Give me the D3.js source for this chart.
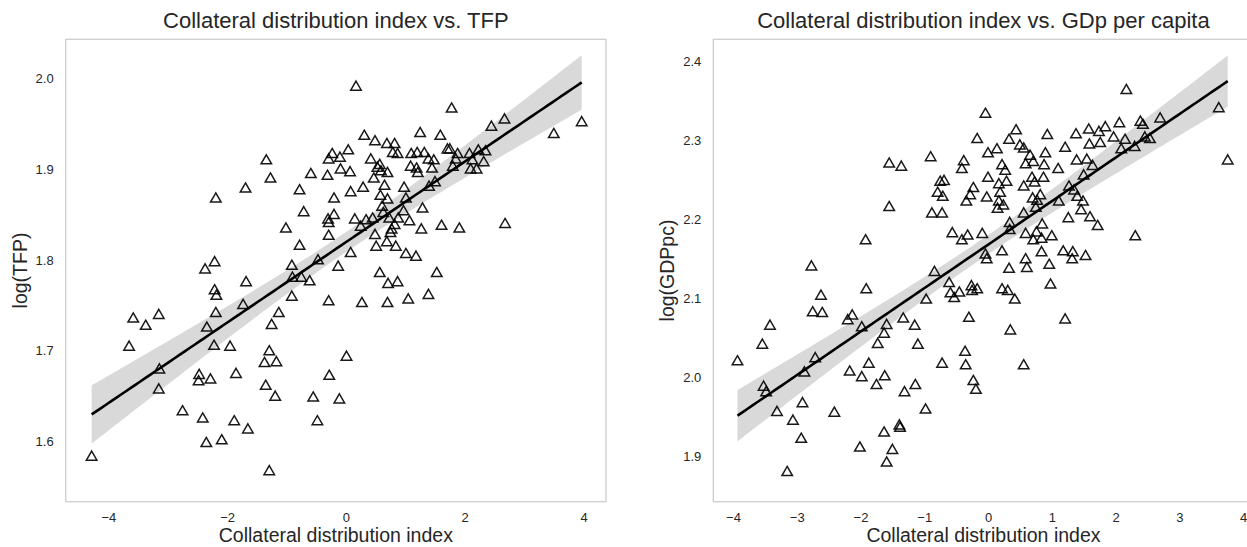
<!DOCTYPE html>
<html>
<head>
<meta charset="utf-8">
<script src="https://cdn.jsdelivr.net/npm/d3@7"></script>
<style>
    body { margin: 0; background: #fff; }
    text { font-family: "Liberation Sans", Arial, sans-serif; fill: #262626; }
</style>
</head>
<body>
<div id="chart"></div>
<script>
// left panel: collateral index vs log(TFP)
var tfpIndex = [
    -4.28, -3.65, -3.58, -3.37, -3.15, -3.14, -3.15, -2.75, -2.47, -2.48,
    -2.41, -2.35, -2.37, -2.34, -2.28, -2.22, -2.21, -2.21, -2.18, -2.19,
    -2.19, -2.09, -1.95, -1.88, -1.85, -1.73, -1.68, -1.69, -1.65, -1.37,
    -1.35, -1.34, -1.29, -1.29, -1.27, -1.25, -1.19, -1.17, -1.13, -1.01,
    -0.91, -0.91, -0.90, -0.78, -0.78, -0.75, -0.71, -0.61, -0.59, -0.55,
    -0.48, -0.47, -0.31, -0.29, -0.30, -0.29, -0.29, -0.29, -0.28, -0.23,
    -0.20, -0.20, -0.13, -0.11, -0.10, -0.09, 0.01, 0.04, 0.07, 0.08,
    0.08, 0.17, 0.15, 0.25, 0.27, 0.29, 0.31, 0.34, 0.42, 0.45,
    0.47, 0.49, 0.49, 0.51, 0.53, 0.57, 0.59, 0.58, 0.57, 0.61,
    0.63, 0.65, 0.69, 0.70, 0.70, 0.69, 0.71, 0.70, 0.73, 0.75,
    0.77, 0.79, 0.82, 0.82, 0.84, 0.87, 0.87, 0.88, 0.97, 0.98,
    1.01, 1.01, 1.05, 1.07, 1.09, 1.10, 1.18, 1.19, 1.20, 1.21,
    1.25, 1.27, 1.29, 1.32, 1.39, 1.39, 1.40, 1.45, 1.48, 1.50,
    1.53, 1.59, 1.61, 1.71, 1.75, 1.78, 1.80, 1.85, 1.88, 1.91,
    2.08, 2.10, 2.13, 2.20, 2.23, 2.32, 2.35, 2.45, 2.67, 2.68,
    3.50, 3.97
]
var tfpLog = [
    1.583, 1.704, 1.735, 1.727, 1.739, 1.679, 1.657, 1.633, 1.673, 1.666,
    1.625, 1.598, 1.789, 1.725, 1.668, 1.705, 1.797, 1.766, 1.760, 1.741,
    1.867, 1.601, 1.704, 1.622, 1.674, 1.750, 1.775, 1.878, 1.613, 1.686,
    1.661, 1.909, 1.699, 1.567, 1.889, 1.728, 1.649, 1.687, 1.741, 1.834,
    1.793, 1.759, 1.780, 1.876, 1.815, 1.780, 1.852, 1.776, 1.894, 1.648,
    1.622, 1.799, 1.892, 1.910, 1.844, 1.840, 1.826, 1.754, 1.672, 1.916,
    1.867, 1.849, 1.792, 1.646, 1.912, 1.899, 1.693, 1.920, 1.896, 1.874,
    1.807, 1.990, 1.844, 1.836, 1.752, 1.879, 1.936, 1.843, 1.910, 1.845,
    1.889, 1.930, 1.827, 1.814, 1.901, 1.904, 1.897, 1.870, 1.785, 1.858,
    1.851, 1.881, 1.927, 1.895, 1.866, 1.819, 1.773, 1.752, 1.845, 1.829,
    1.833, 1.917, 1.927, 1.838, 1.814, 1.916, 1.775, 1.845, 1.853, 1.879,
    1.867, 1.806, 1.756, 1.842, 1.902, 1.916, 1.803, 1.900, 1.917, 1.895,
    1.939, 1.833, 1.856, 1.917, 1.761, 1.910, 1.880, 1.900, 1.909, 1.885,
    1.785, 1.936, 1.837, 1.921, 1.921, 1.966, 1.902, 1.910, 1.916, 1.834,
    1.916, 1.899, 1.909, 1.899, 1.920, 1.907, 1.919, 1.946, 1.954, 1.839,
    1.938, 1.951
]

// right panel: collateral index vs log(GDP per capita)
var gdpIndex = [
    -3.93, -3.54, -3.42, -3.52, -3.48, -3.31, -3.15, -3.06, -2.91, -2.93,
    -2.88, -2.77, -2.75, -2.71, -2.62, -2.60, -2.41, -2.20, -2.13, -2.17,
    -2.01, -1.98, -1.98, -1.92, -1.91, -1.87, -1.75, -1.73, -1.63, -1.63,
    -1.62, -1.59, -1.59, -1.55, -1.55, -1.50, -1.39, -1.38, -1.36, -1.33,
    -1.31, -1.15, -1.14, -1.10, -0.98, -0.97, -0.90, -0.88, -0.84, -0.79,
    -0.75, -0.72, -0.72, -0.71, -0.69, -0.61, -0.59, -0.56, -0.53, -0.45,
    -0.41, -0.41, -0.38, -0.36, -0.35, -0.34, -0.32, -0.30, -0.28, -0.26,
    -0.25, -0.23, -0.23, -0.19, -0.17, -0.17, -0.09, -0.04, -0.04, -0.02,
    -0.02, 0.00, 0.00, 0.14, 0.15, 0.17, 0.17, 0.19, 0.22, 0.24,
    0.22, 0.22, 0.27, 0.29, 0.31, 0.33, 0.34, 0.34, 0.33, 0.35,
    0.42, 0.44, 0.50, 0.56, 0.56, 0.56, 0.56, 0.59, 0.59, 0.61,
    0.59, 0.66, 0.69, 0.70, 0.71, 0.71, 0.73, 0.75, 0.76, 0.77,
    0.82, 0.84, 0.84, 0.85, 0.87, 0.88, 0.90, 0.93, 0.96, 0.98,
    1.00, 1.10, 1.11, 1.21, 1.21, 1.18, 1.26, 1.27, 1.32, 1.33,
    1.35, 1.38, 1.39, 1.40, 1.46, 1.49, 1.50, 1.53, 1.55, 1.58,
    1.59, 1.60, 1.64, 1.72, 1.74, 1.76, 1.84, 1.97, 2.06, 2.09,
    2.15, 2.17, 2.30, 2.31, 2.39, 2.43, 2.46, 2.54, 2.70, 3.62, 3.76
]
var gdpLog = [
    2.020, 2.041, 2.065, 1.988, 1.981, 1.956, 1.880, 1.945, 1.967, 1.922,
    2.006, 2.140, 2.082, 2.024, 2.103, 2.081, 1.955, 2.072, 2.078, 2.007,
    1.911, 2.063, 2.000, 2.173, 2.111, 2.017, 1.990, 2.042, 2.055, 1.930,
    2.001, 2.066, 1.892, 2.270, 2.215, 1.908, 1.939, 1.936, 2.266, 2.074,
    1.981, 2.065, 1.990, 2.041, 1.959, 2.098, 2.278, 2.207, 2.133, 2.233,
    2.247, 2.207, 2.017, 2.228, 2.248, 2.119, 2.106, 2.182, 2.100, 2.107,
    2.173, 2.263, 2.273, 2.032, 2.015, 2.222, 2.179, 2.075, 2.230, 2.115,
    2.109, 2.239, 1.995, 1.984, 2.111, 2.301, 2.181, 2.333, 2.155, 2.149,
    2.227, 2.283, 2.252, 2.288, 2.213, 2.222, 2.244, 2.233, 2.268, 2.217,
    2.159, 2.111, 2.261, 2.247, 2.109, 2.300, 2.195, 2.186, 2.137, 2.059,
    2.098, 2.312, 2.293, 2.289, 2.241, 2.207, 2.015, 2.181, 2.149, 2.138,
    2.269, 2.280, 2.252, 2.226, 2.173, 2.272, 2.246, 2.214, 2.183, 2.223,
    2.230, 2.175, 2.158, 2.193, 2.252, 2.268, 2.283, 2.306, 2.142, 2.117,
    2.178, 2.263, 2.222, 2.073, 2.290, 2.159, 2.201, 2.241, 2.149, 2.158,
    2.236, 2.307, 2.274, 2.228, 2.211, 2.222, 2.255, 2.153, 2.275, 2.313,
    2.294, 2.202, 2.267, 2.191, 2.310, 2.296, 2.316, 2.303, 2.321, 2.288,
    2.300, 2.363, 2.291, 2.178, 2.323, 2.319, 2.303, 2.301, 2.327, 2.340, 2.274
]

var tfpXTicks = [-4, -2, 0, 2, 4]
var tfpYTicks = [1.6, 1.7, 1.8, 1.9, 2.0]
var gdpXTicks = [-4, -3, -2, -1, 0, 1, 2, 3, 4]
var gdpYTicks = [1.9, 2.0, 2.1, 2.2, 2.3, 2.4]

var width = 1247
var height = 547
var plotTop = 39.3
var plotW = 540.3
var plotH = 462.4

var svg = d3.select('#chart')
    .append('svg')
    .attr('width', width)
    .attr('height', height)

draw_panel({
    left: 65.7,
    title: 'Collateral distribution index vs. TFP',
    xlabel: 'Collateral distribution index',
    ylabel: 'log(TFP)',
    xs: tfpIndex, ys: tfpLog,
    xDomain: [-4.717, 4.379], yDomain: [1.534, 2.0427],
    xTicks: tfpXTicks, yTicks: tfpYTicks
})
draw_panel({
    left: 713.3,
    title: 'Collateral distribution index vs. GDp per capita',
    xlabel: 'Collateral distribution index',
    ylabel: 'log(GDPpc)',
    xs: gdpIndex, ys: gdpLog,
    xDomain: [-4.309, 4.166], yDomain: [1.8431, 2.4277],
    xTicks: gdpXTicks, yTicks: gdpYTicks
})

// ols fit with a 95% confidence band for the mean
function fit(xs, ys) {
    var n = xs.length
    var mx = d3.mean(xs), my = d3.mean(ys)
    var sxx = d3.sum(xs, function (x) { return (x - mx) * (x - mx) })
    var sxy = d3.sum(xs.map(function (x, i) { return (x - mx) * (ys[i] - my) }))
    var b = sxy / sxx
    var a = my - b * mx
    var sse = d3.sum(xs.map(function (x, i) { var r = ys[i] - a - b * x; return r * r }))
    var s = Math.sqrt(sse / (n - 2))
    var ext = d3.extent(xs)
    return d3.range(101).map(function (i) {
        var x = ext[0] + (ext[1] - ext[0]) * i / 100
        var h = 1.975 * s * Math.sqrt(1 / n + (x - mx) * (x - mx) / sxx)
        return { x: x, y: a + b * x, lo: a + b * x - h, hi: a + b * x + h }
    })
}

function draw_panel(p) {
    var x = d3.scaleLinear().domain(p.xDomain).range([0, plotW])
    var y = d3.scaleLinear().domain(p.yDomain).range([plotH, 0])

    var g = svg.append('g')
        .attr('transform', 'translate(' + p.left + ',' + plotTop + ')')

    // frame
    g.append('rect')
        .attr('width', plotW)
        .attr('height', plotH)
        .attr('fill', 'none')
        .attr('stroke', '#cccccc')
        .attr('stroke-width', 1.25)

    var xAxis = g.append('g')
        .attr('transform', 'translate(0,' + plotH + ')')
        .call(d3.axisBottom(x).tickValues(p.xTicks).tickSize(0).tickPadding(11))
    var yAxis = g.append('g')
        .call(d3.axisLeft(y).tickValues(p.yTicks).tickSize(0).tickPadding(12).tickFormat(d3.format('.1f')))
    xAxis.select('.domain').remove()
    yAxis.select('.domain').remove()
    g.selectAll('.tick text')
        .style('font-size', '13px')
        .style('font-family', '"Liberation Sans", Arial, sans-serif')
        .attr('fill', '#262626')

    // points
    var pts = p.xs.map(function (d, i) { return [d, p.ys[i]] })
    g.append('g')
        .selectAll('path')
        .data(pts)
        .enter()
        .append('path')
        .attr('d', d3.symbol().type(d3.symbolTriangle).size(48))
        .attr('transform', function (d) { return 'translate(' + x(d[0]) + ',' + y(d[1]) + ')' })
        .attr('fill', 'none')
        .attr('stroke', '#000')
        .attr('stroke-width', 1.5)
        .attr('stroke-opacity', 0.9)

    // regression band and line
    var reg = fit(p.xs, p.ys)
    g.append('path')
        .datum(reg)
        .attr('d', d3.area()
            .x(function (d) { return x(d.x) })
            .y0(function (d) { return y(d.lo) })
            .y1(function (d) { return y(d.hi) }))
        .attr('fill', '#000')
        .attr('fill-opacity', 0.15)
    g.append('path')
        .datum(reg)
        .attr('d', d3.line()
            .x(function (d) { return x(d.x) })
            .y(function (d) { return y(d.y) }))
        .attr('fill', 'none')
        .attr('stroke', '#000')
        .attr('stroke-width', 2.6)

    // titles
    g.append('text')
        .attr('x', plotW / 2)
        .attr('y', -11)
        .attr('text-anchor', 'middle')
        .style('font-size', '22px')
        .text(p.title)
    g.append('text')
        .attr('x', plotW / 2)
        .attr('y', plotH + 40)
        .attr('text-anchor', 'middle')
        .style('font-size', '19.5px')
        .text(p.xlabel)
    g.append('text')
        .attr('transform', 'translate(-46,' + plotH / 2 + ') rotate(-90)')
        .attr('dy', '0.35em')
        .attr('text-anchor', 'middle')
        .style('font-size', '19.5px')
        .text(p.ylabel)
}
</script>
</body>
</html>
